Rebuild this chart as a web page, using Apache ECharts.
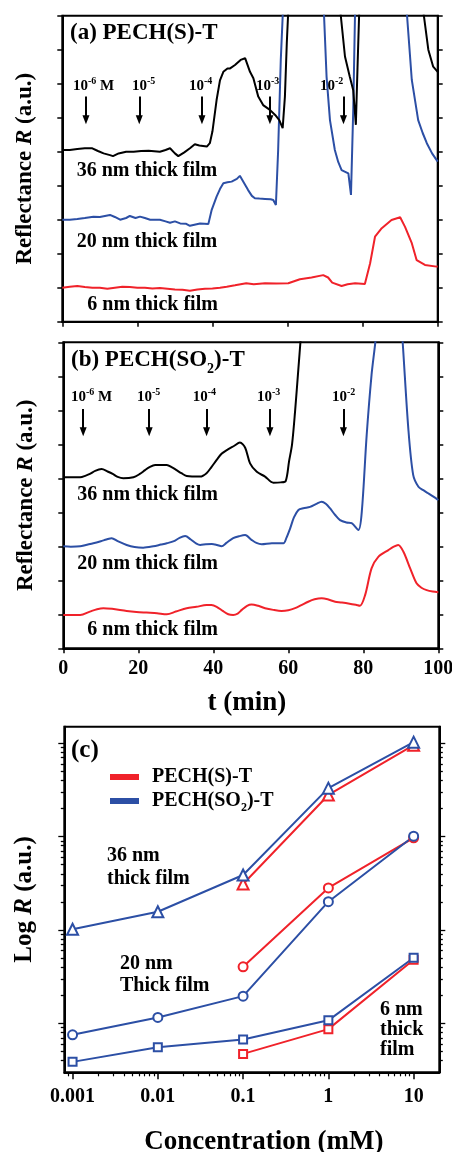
<!DOCTYPE html>
<html><head><meta charset="utf-8">
<script src="https://cdn.jsdelivr.net/npm/echarts@6/dist/echarts.min.js"></script>
<style>html,body{margin:0;padding:0;background:#fff}#c{width:452px;height:1152px}</style>
</head><body><div id="c"></div>
<script>
// ---------- DATA ----------
// Panel (a) PECH(S)-T : [t (min), R (a.u.)]
const a36 = [[0,5.05],[2,5.05],[4,5.08],[6,5.1],[8,5.1],[9.5,5.02],[11,4.95],[12.7,4.9],[13.5,4.87],[15,4.95],[17,5.0],[19,5.0],[21,5.02],[23,5.03],[26,5.0],[27.5,5.05],[28.7,5.1],[30,4.95],[30.9,4.87],[32.5,4.98],[34,5.1],[35.3,5.22],[36.5,5.18],[38.5,5.15],[39.3,5.25],[40,5.6],[41.1,6.52],[42,7.1],[42.9,7.35],[44,7.45],[44.7,7.45],[46,7.55],[47.5,7.7],[48.7,7.75],[50,7.35],[50.9,7.16],[52.2,6.62],[53.5,6.37],[55.3,6.23],[56.7,6.08],[57.8,5.93],[58.7,5.69],[59.3,6.62],[59.8,8.19],[60.3,9.4],[61,11],[65,13],[70,13],[73,11],[74,9.2],[75.3,7.8],[76.6,7.2],[77.5,6.81],[78.2,5.79],[78.7,7.7],[79.2,9.5],[80,12],[85,14],[90,14],[95,11],[96.2,9.1],[97.5,8.0],[98.8,7.5],[100,7.35]];
const a20 = [[0,3.0],[2,3.0],[4,3.02],[6,3.05],[8.3,3.09],[10,3.08],[12.7,3.14],[14,3.08],[15.4,3.0],[17,3.05],[18,3.11],[19.5,3.05],[20.7,3.09],[22,3.05],[23.4,3.0],[26,3.0],[27.5,2.95],[28.7,2.91],[30,2.95],[31.4,2.89],[33,2.88],[34,2.82],[35.5,2.86],[36.7,2.89],[38.9,2.87],[39.8,3.29],[41.1,3.68],[42,3.9],[42.9,4.07],[44,4.1],[45.1,4.12],[46.5,4.2],[47.3,4.29],[48.3,4.1],[49.5,3.87],[50.5,3.7],[51.3,3.63],[52.5,3.62],[54,3.61],[55.5,3.6],[56.2,3.58],[56.9,3.43],[57.5,5.05],[58.2,7.7],[58.7,8.97],[59.2,10.5],[62,12],[66,12],[69.5,9.6],[70.4,7.2],[71.3,5.93],[72.6,5.05],[73.5,4.7],[74.4,4.46],[75.5,4.4],[76.2,4.36],[76.9,3.73],[77.5,6.23],[78,9.2],[78.5,10.5],[82,12],[88,12],[91.5,9.5],[93.1,7.11],[94.8,5.93],[96,5.55],[97.1,5.25],[98.5,4.95],[100,4.71]];
const a6 = [[0,1.0],[2,1.03],[4,1.05],[6,1.02],[8,1.0],[10,1.0],[12,0.97],[14,1.0],[16,1.03],[18,1.02],[20,1.0],[22,1.0],[24,0.98],[26,0.99],[28,0.97],[30,0.95],[32,0.94],[34,0.91],[36,0.95],[38,0.97],[40,0.98],[42,1.0],[43.8,1.03],[46,1.07],[49,1.13],[51,1.1],[54,1.13],[57,1.12],[60.2,1.13],[63.3,1.25],[66.4,1.3],[69.5,1.37],[70.8,1.3],[71.9,1.15],[74.4,1.05],[76,1.1],[78,1.13],[80.6,1.11],[82,1.72],[83.3,2.5],[85.1,2.75],[87.7,2.99],[90,3.07],[91.3,2.79],[93.1,2.31],[94.4,1.81],[96.6,1.67],[99.7,1.62],[100,1.62]];
// Panel (b) PECH(SO2)-T
const b36 = [[0,5.03],[2,5.03],[4.5,5.03],[6,5.08],[7.1,5.13],[8.5,5.22],[10.2,5.27],[11.8,5.2],[13.3,5.12],[14.5,5.04],[16,5.0],[18.7,5.03],[20.3,5.12],[21.8,5.24],[23,5.33],[24.5,5.39],[27.6,5.39],[29,5.32],[30.2,5.24],[31.5,5.15],[32.9,5.07],[36.5,5.05],[38.2,5.15],[39.5,5.33],[40.9,5.54],[42.2,5.72],[43.6,5.83],[45.5,5.95],[47.1,6.05],[48.5,5.9],[49.8,5.44],[51.6,5.19],[53.8,5.05],[56,4.87],[58,4.88],[59.3,4.92],[60.2,5.5],[61,6.0],[61.8,6.96],[62.7,8.24],[63.3,9.1],[64,10.2],[70,13],[80,14],[90,14],[100,14]];
const b20 = [[0,3.0],[2,2.99],[4.5,3.0],[6,3.04],[8,3.09],[10,3.15],[11.5,3.2],[12.9,3.24],[14.5,3.15],[16.9,3.04],[19,2.98],[21.3,2.96],[24,3.0],[26,3.05],[27.6,3.09],[29.5,3.15],[31,3.25],[32.5,3.3],[34,3.2],[35.5,3.08],[36.5,3.04],[38,3.06],[39.6,3.07],[41,3.04],[42.2,3.0],[43.5,3.1],[45.3,3.24],[47,3.3],[48.5,3.33],[50.2,3.19],[51.5,3.1],[52.9,3.06],[55.6,3.09],[58.7,3.09],[59.5,3.25],[60.5,3.53],[61.5,3.85],[62.7,4.07],[64,4.12],[65.8,4.16],[67.5,4.25],[68.9,4.31],[70,4.25],[71.1,4.12],[72.5,3.92],[73.8,3.77],[75.5,3.7],[76.9,3.68],[78.7,3.48],[79.6,4.02],[80.9,6.27],[82.2,8.04],[83.2,9.0],[84,10],[86,11],[88,11],[89.8,10],[90.5,9.0],[92,6.47],[93.3,5.1],[94.7,4.75],[96,4.65],[97.3,4.56],[98.7,4.46],[100,4.36]];
const b6 = [[0,0.98],[2,0.98],[4.5,0.98],[7.1,1.08],[9,1.15],[10.7,1.18],[13,1.16],[16.9,1.1],[19.5,1.07],[22.2,1.05],[25,1.03],[27.6,1.0],[30,1.08],[32.9,1.18],[35.5,1.22],[38.2,1.27],[39.5,1.27],[40.9,1.22],[42.5,1.1],[44,1.0],[45.3,0.98],[46.5,1.02],[47.6,1.13],[49,1.25],[50.2,1.29],[52,1.25],[53.8,1.18],[56,1.13],[58.2,1.1],[60,1.12],[61.8,1.18],[63.5,1.27],[65.3,1.37],[67,1.44],[68.9,1.47],[70.5,1.44],[72.5,1.37],[74,1.35],[76,1.32],[78,1.28],[79.1,1.25],[80.5,1.57],[82.2,2.35],[84,2.69],[86.7,2.89],[88,2.98],[89.3,3.04],[90.7,2.84],[92.5,2.35],[94.2,1.91],[95.5,1.78],[96.9,1.71],[98.5,1.67],[100,1.65]];
// injection arrows (time, min) and concentration labels
const arrowTimesA = [6.3, 20.5, 37.2, 55.3, 74.9];
const arrowTimesB = [5.3, 22.9, 38.2, 55.1, 74.7];
const concExp = ['-6','-5','-4','-3','-2'];
// Panel (c) Log R vs concentration
const conc = [0.001, 0.01, 0.1, 1, 10];
const concTickLabels = ['0.001','0.01','0.1','1','10'];
const so2_36 = [10.2, 15.7, 38.8, 330, 1025];
const so2_20 = [0.755, 1.16, 1.96, 20.1, 101];
const so2_6  = [0.388, 0.557, 0.674, 1.08, 5.04];
const s_36 = [null, null, 31.1, 279, 950];
const s_20 = [null, null, 4.04, 28.2, 97];
const s_6  = [null, null, 0.472, 0.869, 4.8];
const timeTicks = [0, 20, 40, 60, 80, 100];

// ---------- STYLE ----------
const F = '"Liberation Serif","Times New Roman",serif';
const BLUE = '#2c4fa5', RED = '#f0222a', BLK = '#000';
const AX = {color: BLK, width: 2};
const chart = echarts.init(document.getElementById('c'), null, {renderer: 'canvas'});

function grid(l, t, w, h) {
  return {left: l, top: t, width: w, height: h, show: true, borderColor: BLK, borderWidth: 2,
    backgroundColor: 'transparent', containLabel: false, outerBoundsMode: 'none'};
}
const bold = (size, extra) => Object.assign({fontFamily: F, fontWeight: 'bold', fontSize: size, color: BLK}, extra || {});

function timeX(gi, labels, name) {
  return {type: 'value', gridIndex: gi, min: 0, max: 100, interval: 20,
    axisLine: {show: true, onZero: false, lineStyle: AX},
    axisTick: {show: true, inside: false, length: 5, lineStyle: {color: BLK, width: 1.5}},
    axisLabel: Object.assign({show: labels, margin: 11, formatter: v => String(v)}, bold(20)),
    splitLine: {show: false},
    name: name || '', nameLocation: 'middle', nameGap: 41,
    nameTextStyle: bold(27, {padding: [0, 8, 0, 0]})};
}
function reflY(gi, pos, withName) {
  return {type: 'value', gridIndex: gi, position: pos, min: 0, max: 9, interval: 1,
    axisLine: {show: true, onZero: false, lineStyle: AX},
    axisTick: {show: true, inside: false, length: 5, lineStyle: {color: BLK, width: 1.5}},
    axisLabel: {show: false}, splitLine: {show: false},
    name: withName ? '{b|Reflectance }{i|R}{b| (a.u.)}' : '', nameLocation: 'middle', nameGap: 26,
    nameTextStyle: {rich: {b: bold(23), i: bold(23, {fontStyle: 'italic'})}}};
}

// minor log tick positions (2..9 of each decade)
const minorX = [], minorY = [];
for (let d = -4; d <= 1; d++) for (let k = 2; k <= 9; k++) {
  const v = +(k * Math.pow(10, d)).toPrecision(6);
  if (v > 0.00085 && v < 19) minorX.push(v);
}
for (let d = -1; d <= 3; d++) for (let k = 2; k <= 9; k++) {
  const v = +(k * Math.pow(10, d)).toPrecision(6);
  if (v > 0.31 && v < 1500) minorY.push(v);
}
const majorY = [1, 10, 100, 1000];

function logY(pos, ticks, len, withName) {
  return {type: 'log', gridIndex: 2, position: pos, min: 0.3, max: 1500,
    axisLine: {show: true, onZero: false, lineStyle: AX},
    axisTick: {show: true, inside: false, length: len, customValues: ticks, lineStyle: {color: BLK, width: 1.3}},
    axisLabel: {show: false}, splitLine: {show: false}, minorTick: {show: false},
    name: withName ? '{b|Log }{i|R}{b| (a.u.)}' : '', nameLocation: 'middle', nameGap: 27,
    nameTextStyle: {rich: {b: bold(25), i: bold(25, {fontStyle: 'italic'})}}};
}

function curve(name, data, color, xi, yi, smooth, extra) {
  return Object.assign({name, type: 'line', xAxisIndex: xi, yAxisIndex: yi, data, showSymbol: false, symbol: 'none',
    smooth: smooth, clip: true, lineStyle: {color, width: 2}, itemStyle: {color}, animation: false, silent: true, z: 3}, extra || {});
}
function arrowShafts(times, top, end) {
  return {silent: true, symbol: ['none', 'none'], label: {show: false},
    lineStyle: {color: BLK, width: 2, type: 'solid'}, animation: false, emphasis: {disabled: true},
    data: times.map(t => [{coord: [t, top]}, {coord: [t, end]}])};
}
function arrowHeads(times, y) {
  return {silent: true, symbol: 'triangle', symbolRotate: 180, symbolSize: [7, 9], label: {show: false},
    itemStyle: {color: BLK}, animation: false, emphasis: {disabled: true},
    data: times.map(t => ({coord: [t, y]}))};
}
function pts(name, vals, color, sym, size) {
  const data = conc.map((c, i) => [c, vals[i]]).filter(p => p[1] != null);
  return {name, type: 'line', xAxisIndex: 2, yAxisIndex: 4, data, symbol: sym, symbolSize: size, showSymbol: true,
    lineStyle: {color, width: 2}, itemStyle: {color, borderColor: color, borderWidth: 1.3}, animation: false, silent: true, z: 4};
}

// ---------- ANNOTATIONS ----------
const richBase = {
  t: bold(15, {lineHeight: 16}), sup: bold(10, {height: 6, verticalAlign: 'top'}),
  T: bold(23, {lineHeight: 26}), s: bold(14, {height: 8, verticalAlign: 'bottom'})
};
function txt(x, y, text, size, lh) {
  return {type: 'text', x, y, silent: true, z: 10,
    style: {text, fill: BLK, font: 'bold ' + size + 'px ' + F, lineHeight: lh || size,
      align: 'left', verticalAlign: 'middle', textAlign: 'left', textVerticalAlign: 'middle'}};
}
function rtxt(x, y, text) {
  return {type: 'text', x, y, silent: true, z: 10,
    style: {text, rich: richBase, align: 'left', verticalAlign: 'middle', textAlign: 'left', textVerticalAlign: 'middle'}};
}
const concLabelA = [73, 132, 189, 256, 320];
const concLabelB = [71, 137, 192.7, 257, 332];
const graphics = [
  txt(70, 33, '(a) PECH(S)-T', 23),
  rtxt(71, 360, '{T|(b) PECH(SO}{s|2}{T|)-T}'),
  txt(71, 751, '(c)', 25),
  txt(76.7, 170.7, '36 nm thick film', 20), txt(76.7, 241.7, '20 nm thick film', 20), txt(87.3, 305, '6 nm thick film', 20),
  txt(77.3, 495, '36 nm thick film', 20), txt(77.3, 564, '20 nm thick film', 20), txt(87.3, 630, '6 nm thick film', 20),
  txt(107, 867, '36 nm\nthick film', 20, 23), txt(120, 975, '20 nm\nThick film', 20, 22),
  txt(380, 1030, '6 nm\nthick\nfilm', 20, 20)
];
concExp.forEach((e, i) => {
  const suffix = i === 0 ? '{t| M}' : '';
  graphics.push(rtxt(concLabelA[i], 86, '{t|10}{sup|' + e + '}' + suffix));
  graphics.push(rtxt(concLabelB[i], 397.3, '{t|10}{sup|' + e + '}' + suffix));
});

// ---------- OPTION ----------
const option = {
  animation: false,
  backgroundColor: '#fff',
  grid: [grid(62.3, 15.7, 375.4, 306), grid(63.3, 342.3, 375, 306), grid(64.3, 726.7, 375, 345.6)],
  xAxis: [
    timeX(0, false),
    timeX(1, true, 't (min)'),
    {type: 'log', gridIndex: 2, position: 'bottom', min: 0.0008, max: 20,
      axisLine: {show: true, onZero: false, lineStyle: AX},
      axisTick: {show: true, inside: false, length: 7, customValues: conc, lineStyle: {color: BLK, width: 1.5}},
      axisLabel: Object.assign({show: true, margin: 15, customValues: conc,
        formatter: v => { let best = 0; conc.forEach((c, i) => { if (Math.abs(Math.log10(c) - Math.log10(v)) < Math.abs(Math.log10(conc[best]) - Math.log10(v))) best = i; }); return concTickLabels[best]; }}, bold(20)),
      splitLine: {show: false}, minorTick: {show: false},
      name: 'Concentration (mM)', nameLocation: 'middle', nameGap: 56, nameTextStyle: bold(27, {padding: [0, 0, 0, 24]})},
    {type: 'log', gridIndex: 2, position: 'bottom', min: 0.0008, max: 20,
      axisLine: {show: false},
      axisTick: {show: true, inside: false, length: 4, customValues: minorX, lineStyle: {color: BLK, width: 1.2}},
      axisLabel: {show: false}, splitLine: {show: false}, minorTick: {show: false}}
  ],
  yAxis: [
    reflY(0, 'left', true), reflY(0, 'right', false),
    reflY(1, 'left', true), reflY(1, 'right', false),
    logY('left', majorY, 6, true), logY('left', minorY, 3.5, false),
    logY('right', majorY, 6, false), logY('right', minorY, 3.5, false)
  ],
  legend: {
    show: true, left: 110, top: 767, padding: 0, orient: 'vertical', itemWidth: 27, itemHeight: 4, itemGap: 4,
    icon: 'rect', selectedMode: false,
    data: ['PECH(S)-T', 'PECH(SO2)-T'],
    formatter: n => n === 'PECH(SO2)-T' ? '{L|PECH(SO}{s|2}{L|)-T}' : '{L|' + n + '}',
    textStyle: {padding: [0, 0, 0, 9], rich: {L: bold(20, {lineHeight: 20}), s: bold(12, {height: 6, verticalAlign: 'bottom'})}}
  },
  graphic: graphics,
  series: [
    curve('a6', a6, RED, 0, 0, false),
    curve('a20', a20, BLUE, 0, 0, false),
    curve('a36', a36, BLK, 0, 0, false, {markLine: arrowShafts(arrowTimesA, 6.62, 5.94), markPoint: arrowHeads(arrowTimesA, 5.94)}),
    curve('b6', b6, RED, 1, 2, 0.3),
    curve('b20', b20, BLUE, 1, 2, 0.3),
    curve('b36', b36, BLK, 1, 2, 0.3, {markLine: arrowShafts(arrowTimesB, 7.04, 6.37), markPoint: arrowHeads(arrowTimesB, 6.37)}),
    pts('PECH(S)-T', s_36, RED, 'emptyTriangle', 11),
    pts('PECH(S)-T', s_20, RED, 'emptyCircle', 9),
    pts('PECH(S)-T', s_6, RED, 'emptyRect', 8),
    pts('PECH(SO2)-T', so2_36, BLUE, 'emptyTriangle', 11),
    pts('PECH(SO2)-T', so2_20, BLUE, 'emptyCircle', 9),
    pts('PECH(SO2)-T', so2_6, BLUE, 'emptyRect', 8)
  ]
};
chart.setOption(option);
</script></body></html>
